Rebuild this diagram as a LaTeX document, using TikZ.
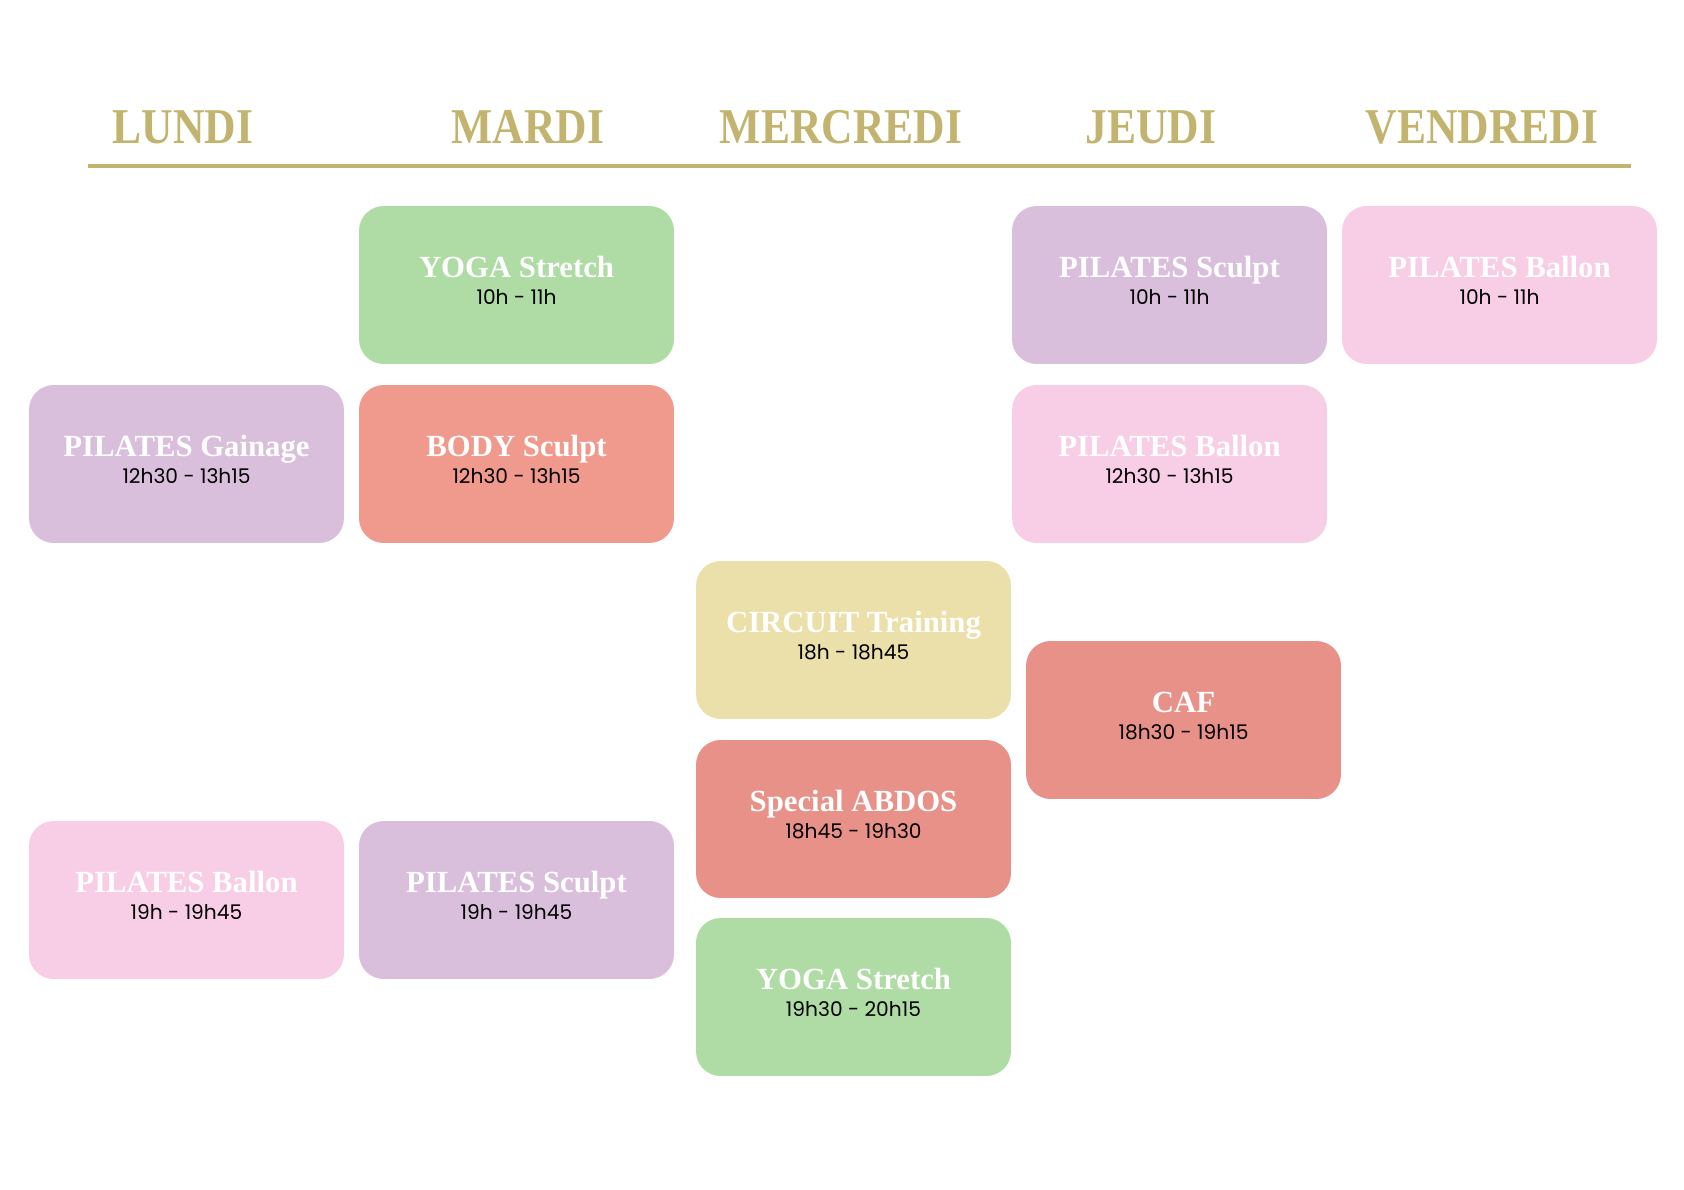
\documentclass[tikz,border=0pt]{standalone}
\usepackage{fontspec}
\setmainfont{Liberation Serif}
\newfontfamily\dayfont[FakeStretch=0.87]{Liberation Serif}
\newfontfamily\timefont{Poppins}
\usetikzlibrary{calc}

\definecolor{gold}{RGB}{194,180,110}
\definecolor{sage}{RGB}{175,219,164}
\definecolor{lilac}{RGB}{217,191,220}
\definecolor{blush}{RGB}{247,206,229}
\definecolor{salmon}{RGB}{240,153,141}
\definecolor{coral}{RGB}{232,145,137}
\definecolor{straw}{RGB}{235,224,170}

\begin{document}
\begin{tikzpicture}[x=0.02cm,y=-0.02cm,
    day/.style={anchor=base, text=gold, font=\dayfont\bfseries\fontsize{28.5}{30}\selectfont},
    slot/.style={rounded corners=14pt, minimum width=6.3cm, minimum height=3.16cm,
                 inner sep=0pt, text=white, text height=0pt, text depth=9.1pt,
                 font=\bfseries\fontsize{17.5}{20}\selectfont},
    hours/.style={anchor=base, font=\timefont\fontsize{11.5}{13}\selectfont}]

  \useasboundingbox (0,0) rectangle (1684,1190);

  %Jours%
  \node[day] (lundi) at (183,143) {LUNDI};
  \node[day] (mardi) at (528,143) {MARDI};
  \node[day] (mercredi) at (841,143) {MERCREDI};
  \node[day] (jeudi) at (1151,143) {JEUDI};
  \node[day] (vendredi) at (1482,143) {VENDREDI};
  \draw[gold, line width=2.1pt] (88,166) -- (1631,166);

  %Lundi%
  \node[slot, fill=lilac] (lunGainage) at (186.5,464) {PILATES Gainage};
  \node[hours] (lunGainageH) at ($(lunGainage.center)+(0,19)$) {12h30 - 13h15};
  \node[slot, fill=blush] (lunBallon) at (186.5,900) {PILATES Ballon};
  \node[hours] (lunBallonH) at ($(lunBallon.center)+(0,19)$) {19h - 19h45};

  %Mardi%
  \node[slot, fill=sage] (marYoga) at (516.5,285) {YOGA Stretch};
  \node[hours] (marYogaH) at ($(marYoga.center)+(0,19)$) {10h - 11h};
  \node[slot, fill=salmon] (marBody) at (516.5,464) {BODY Sculpt};
  \node[hours] (marBodyH) at ($(marBody.center)+(0,19)$) {12h30 - 13h15};
  \node[slot, fill=lilac] (marSculpt) at (516.5,900) {PILATES Sculpt};
  \node[hours] (marSculptH) at ($(marSculpt.center)+(0,19)$) {19h - 19h45};

  %Mercredi%
  \node[slot, fill=straw] (merCircuit) at (853.5,640) {CIRCUIT Training};
  \node[hours] (merCircuitH) at ($(merCircuit.center)+(0,19)$) {18h - 18h45};
  \node[slot, fill=coral] (merAbdos) at (853.5,819) {Special ABDOS};
  \node[hours] (merAbdosH) at ($(merAbdos.center)+(0,19)$) {18h45 - 19h30};
  \node[slot, fill=sage] (merYoga) at (853.5,997) {YOGA Stretch};
  \node[hours] (merYogaH) at ($(merYoga.center)+(0,19)$) {19h30 - 20h15};

  %Jeudi%
  \node[slot, fill=lilac] (jeuSculpt) at (1169.5,285) {PILATES Sculpt};
  \node[hours] (jeuSculptH) at ($(jeuSculpt.center)+(0,19)$) {10h - 11h};
  \node[slot, fill=blush] (jeuBallon) at (1169.5,464) {PILATES Ballon};
  \node[hours] (jeuBallonH) at ($(jeuBallon.center)+(0,19)$) {12h30 - 13h15};
  \node[slot, fill=coral] (jeuCaf) at (1183.5,720) {CAF};
  \node[hours] (jeuCafH) at ($(jeuCaf.center)+(0,19)$) {18h30 - 19h15};

  %Vendredi%
  \node[slot, fill=blush] (venBallon) at (1499.5,285) {PILATES Ballon};
  \node[hours] (venBallonH) at ($(venBallon.center)+(0,19)$) {10h - 11h};
\end{tikzpicture}
\end{document}
